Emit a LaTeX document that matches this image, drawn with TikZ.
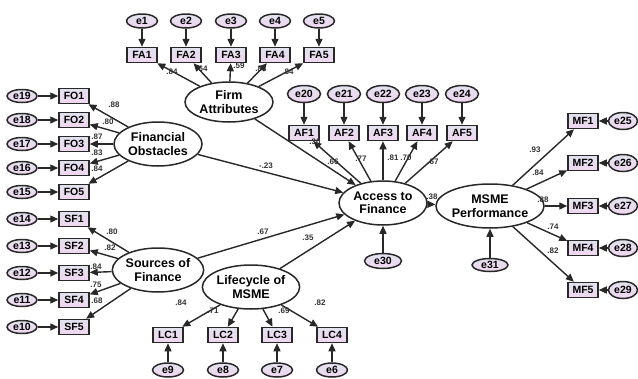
\documentclass[tikz,border=0pt]{standalone}
\usepackage{fontspec}
\setmainfont{Liberation Sans}
\usetikzlibrary{arrows.meta,shapes.geometric}
\definecolor{ltop}{RGB}{226,226,238}
\definecolor{lbot}{RGB}{240,214,240}
\definecolor{edgec}{RGB}{40,40,40}
\begin{document}
\begin{tikzpicture}[x=1pt,y=-1pt,
 ind/.style={draw=edgec, line width=1.5pt, top color=ltop, bottom color=lbot, minimum width=30pt, minimum height=15pt, inner sep=0pt, font=\bfseries\fontsize{10.5}{10.5}\selectfont},
 err/.style={ellipse, draw=edgec, line width=1.5pt, top color=ltop, bottom color=lbot, minimum width=31pt, minimum height=14pt, inner sep=0pt, font=\bfseries\fontsize{10.5}{10.5}\selectfont},
 lat/.style={ellipse, draw=edgec, line width=1.5pt, fill=white, minimum width=88pt, minimum height=44pt, inner sep=0pt, align=center, font=\bfseries\fontsize{12.5}{13.5}\selectfont},
 arr/.style={-{Triangle[length=8pt,width=7pt]}, line width=1.4pt, draw=edgec},
 lbl/.style={font=\bfseries\fontsize{8}{8}\selectfont, text=black!80, inner sep=0pt}
]
\useasboundingbox (0,0) rectangle (638,378);

% latent variables
\node[lat, minimum height=40pt] (fa) at (229,102) {Firm\\Attributes};
\node[lat] (fo) at (158,144) {Financial\\Obstacles};
\node[lat] (sf) at (158,270) {Sources of\\Finance};
\node[lat] (lc) at (251,287) {Lifecycle of\\MSME};
\node[lat] (af) at (383,203) {Access to\\Finance};
\node[lat] (mp) at (490,206) {MSME\\Performance};

% Firm attributes indicators
\foreach \i/\x/\e in {1/142/e1,2/186/e2,3/231/e3,4/275/e4,5/319/e5}{
  \node[ind] (FA\i) at (\x,55) {FA\i};
  \node[err] (\e) at (\x,21) {\e};
  \draw[arr] (\e) -- (FA\i);
  \draw[arr] (fa) -- (FA\i);
}
% Financial obstacles indicators
\foreach \i/\y/\e in {1/96/e19,2/120/e18,3/144/e17,4/168/e16,5/192/e15}{
  \node[ind] (FO\i) at (74,\y) {FO\i};
  \node[err, minimum width=30pt, minimum height=13pt] (\e) at (22,\y) {\e};
  \draw[arr] (\e) -- (FO\i);
  \draw[arr] (fo) -- (FO\i);
}
% Sources of finance indicators
\foreach \i/\y/\e in {1/219/e14,2/246/e13,3/273/e12,4/300/e11,5/327/e10}{
  \node[ind] (SF\i) at (74,\y) {SF\i};
  \node[err, minimum width=30pt, minimum height=13pt] (\e) at (22,\y) {\e};
  \draw[arr] (\e) -- (SF\i);
  \draw[arr] (sf) -- (SF\i);
}
% Lifecycle indicators
\foreach \i/\x/\e in {1/168/e9,2/223/e8,3/277/e7,4/332/e6}{
  \node[ind] (LC\i) at (\x,335) {LC\i};
  \node[err] (\e) at (\x,370) {\e};
  \draw[arr] (\e) -- (LC\i);
  \draw[arr] (lc) -- (LC\i);
}
% Access to finance indicators
\foreach \i/\x/\e in {1/304/e20,2/344/e21,3/383/e22,4/422/e23,5/462/e24}{
  \node[ind] (AF\i) at (\x,133) {AF\i};
  \node[err, minimum width=33pt, minimum height=17pt] (\e) at (\x,94) {\e};
  \draw[arr] (\e) -- (AF\i);
  \draw[arr] (af) -- (AF\i);
}
% MSME performance indicators
\foreach \i/\y/\e in {1/121/e25,2/163/e26,3/206/e27,4/248/e28,5/290/e29}{
  \node[ind] (MF\i) at (583,\y) {MF\i};
  \node[err, minimum width=29pt, minimum height=17pt] (\e) at (623,\y) {\e};
  \draw[arr] (\e) -- (MF\i);
  \draw[arr] (mp) -- (MF\i);
}
% disturbances
\node[err, minimum width=37pt, minimum height=15pt] (e30) at (383,261) {e30};
\node[err, minimum width=36pt, minimum height=13pt] (e31) at (490,265) {e31};
\draw[arr] (e30) -- (af);
\draw[arr] (e31) -- (mp);

% structural paths
\draw[arr] (fa) -- (af);
\draw[arr] (fo) -- (af);
\draw[arr] (sf) -- (af);
\draw[arr] (lc) -- (af);
\draw[arr] (af) -- (mp);

% labels
\node[lbl] (l1) at (172,72) {.84};
\node[lbl] (l2) at (202,69) {.64};
\node[lbl] (l3) at (239,66) {.59};
\node[lbl] (l4) at (261,69) {.83};
\node[lbl] (l5) at (288,72) {.84};
\node[lbl] (l6) at (114,105) {.88};
\node[lbl] (l7) at (108,122) {.80};
\node[lbl] (l8) at (97,137) {.87};
\node[lbl] (l9) at (97,153) {.83};
\node[lbl] (l10) at (97,169) {.84};
\node[lbl] (l11) at (112,232) {.80};
\node[lbl] (l12) at (110,248) {.82};
\node[lbl] (l13) at (96,267) {.84};
\node[lbl] (l14) at (96,285) {.75};
\node[lbl] (l15) at (97,301) {.68};
\node[lbl] (l16) at (181,303) {.84};
\node[lbl] (l17) at (213,311) {.71};
\node[lbl] (l18) at (284,311) {.69};
\node[lbl] (l19) at (320,303) {.82};
\node[lbl] (l20) at (315,142) {.30};
\node[lbl] (l21) at (333,162) {.66};
\node[lbl] (l22) at (361,159) {.77};
\node[lbl] (l23) at (393,158) {.81};
\node[lbl] (l24) at (406,158) {.70};
\node[lbl] (l25) at (433,162) {.67};
\node[lbl] (l26) at (535,150) {.93};
\node[lbl] (l27) at (538,173) {.84};
\node[lbl] (l28) at (543,200) {.88};
\node[lbl] (l29) at (553,227) {.74};
\node[lbl] (l30) at (553,251) {.82};
\node[lbl] (l31) at (266,166) {-.23};
\node[lbl] (l32) at (263,232) {.67};
\node[lbl] (l33) at (308,238) {.35};
\node[lbl] (l34) at (432,197) {.38};
\end{tikzpicture}
\end{document}
